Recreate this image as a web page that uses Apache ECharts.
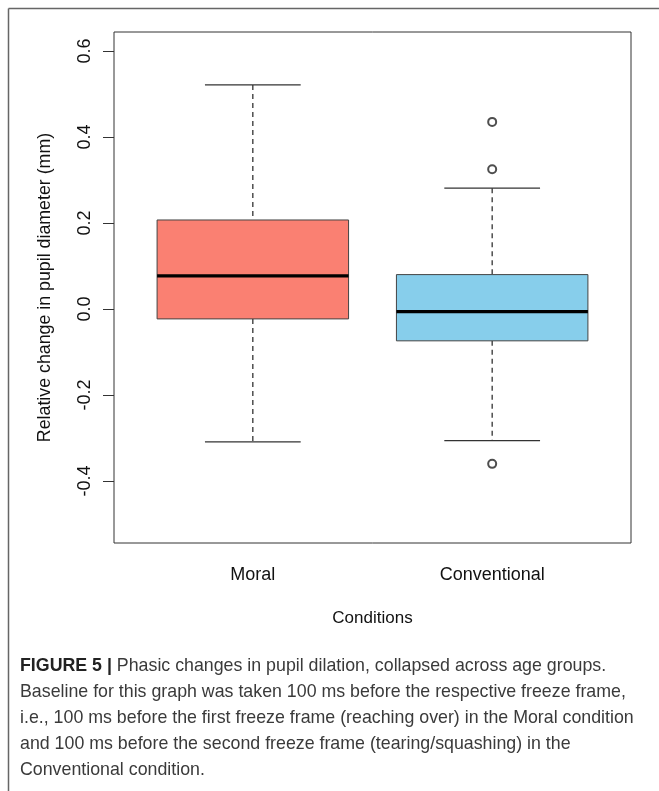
<!DOCTYPE html>
<html>
<head>
<meta charset="utf-8">
<script src="https://cdn.jsdelivr.net/npm/echarts@6/dist/echarts.min.js"></script>
<style>
  html, body { margin: 0; padding: 0; background: #fff; }
  #chart { width: 659px; height: 791px; }
</style>
</head>
<body>
<div id="chart"></div>
<script>
// ---- data ----
const categories = ['Moral', 'Conventional'];
const categoryPos = [1, 2];
const whiskerLow = [-0.309, -0.306];
const q1 = [-0.023, -0.074];
const median = [0.077, -0.006];
const q3 = [0.207, 0.080];
const whiskerHigh = [0.521, 0.281];
const outlierCategory = [2, 2, 2];
const outlierValue = [0.435, 0.325, -0.360];
const yTickValues = [-0.4, -0.2, 0.0, 0.2, 0.4, 0.6];
const yTickLabels = ['-0.4', '-0.2', '0.0', '0.2', '0.4', '0.6'];
const captionLines = [
  'Phasic changes in pupil dilation, collapsed across age groups.',
  'Baseline for this graph was taken 100 ms before the respective freeze frame,',
  'i.e., 100 ms before the first freeze frame (reaching over) in the Moral condition',
  'and 100 ms before the second freeze frame (tearing/squashing) in the',
  'Conventional condition.'
];

const boxData = categoryPos.map((x, i) => [x, whiskerLow[i], q1[i], median[i], q3[i], whiskerHigh[i]]);
const outlierData = outlierCategory.map((c, i) => [c, outlierValue[i]]);
const boxColors = ['#FA8072', '#87CEEB'];

const chart = echarts.init(document.getElementById('chart'), null, { renderer: 'canvas' });

const FONT = '"Liberation Sans", Arial, Helvetica, sans-serif';

function renderBox(params, api) {
  const x = api.value(0);
  const lo = api.value(1), a = api.value(2), m = api.value(3), b = api.value(4), hi = api.value(5);
  const hw = 0.4, cw = 0.2;
  const pTL = api.coord([x - hw, b]);
  const pBR = api.coord([x + hw, a]);
  const pMedL = api.coord([x - hw, m]);
  const pMedR = api.coord([x + hw, m]);
  const pHi = api.coord([x, hi]);
  const pB = api.coord([x, b]);
  const pA = api.coord([x, a]);
  const pLo = api.coord([x, lo]);
  const capHiL = api.coord([x - cw, hi]), capHiR = api.coord([x + cw, hi]);
  const capLoL = api.coord([x - cw, lo]), capLoR = api.coord([x + cw, lo]);
  const dashStyle = { stroke: '#333', lineWidth: 1.3, lineDash: [5, 4], fill: null };
  return {
    type: 'group',
    children: [
      { type: 'line', shape: { x1: pHi[0], y1: pHi[1], x2: pB[0], y2: pB[1] }, style: dashStyle },
      { type: 'line', shape: { x1: pA[0], y1: pA[1], x2: pLo[0], y2: pLo[1] }, style: dashStyle },
      { type: 'line', shape: { x1: capHiL[0], y1: capHiL[1], x2: capHiR[0], y2: capHiR[1] }, style: { stroke: '#333', lineWidth: 1.4 } },
      { type: 'line', shape: { x1: capLoL[0], y1: capLoL[1], x2: capLoR[0], y2: capLoR[1] }, style: { stroke: '#333', lineWidth: 1.4 } },
      { type: 'rect', shape: { x: pTL[0], y: pTL[1], width: pBR[0] - pTL[0], height: pBR[1] - pTL[1] },
        style: { fill: boxColors[params.dataIndex], stroke: '#444', lineWidth: 1 } },
      { type: 'line', shape: { x1: pMedL[0], y1: pMedL[1], x2: pMedR[0], y2: pMedR[1] }, style: { stroke: '#000', lineWidth: 3.2 } }
    ]
  };
}

const graphics = [
  { type: 'line', shape: { x1: 8.5, y1: 8.5, x2: 659, y2: 8.5 }, style: { stroke: '#666', lineWidth: 1.5 } },
  { type: 'line', shape: { x1: 8.5, y1: 8.5, x2: 8.5, y2: 791 }, style: { stroke: '#666', lineWidth: 1.5 } }
];
const capY = [666, 692, 718, 744, 770];
captionLines.forEach((t, i) => {
  graphics.push({
    type: 'text', x: 20, y: capY[i],
    style: {
      text: i === 0 ? '{b|FIGURE 5 |} ' + t : t,
      fill: '#3a3a3a', font: '17.8px ' + FONT,
      verticalAlign: 'middle', textVerticalAlign: 'middle',
      rich: { b: { fontWeight: 'bold', fill: '#222', fontSize: 17.8, fontFamily: 'Liberation Sans' } }
    }
  });
});

const option = {
  animation: false,
  backgroundColor: '#fff',
  textStyle: { fontFamily: FONT },
  grid: {
    left: 114, right: 28, top: 32, bottom: 248,
    show: true, borderColor: '#333', borderWidth: 1, backgroundColor: 'transparent',
    containLabel: false, outerBoundsMode: 'none'
  },
  xAxis: {
    type: 'value', min: 0.42, max: 2.58,
    splitLine: { show: false },
    axisLine: { show: false },
    axisTick: { show: true, customValues: categoryPos, length: 9, lineStyle: { color: '#333' } },
    axisLabel: {
      customValues: categoryPos, margin: 23,
      formatter: v => categories[categoryPos.indexOf(Math.round(v))] || '',
      color: '#111', fontSize: 18, fontFamily: FONT
    },
    name: 'Conditions', nameLocation: 'middle', nameGap: 67,
    nameTextStyle: { color: '#111', fontSize: 17, fontFamily: FONT }
  },
  yAxis: {
    type: 'value', min: -0.544, max: 0.644,
    splitLine: { show: false },
    axisLine: { show: false },
    axisTick: { show: true, customValues: yTickValues, length: 11, lineStyle: { color: '#333' } },
    axisLabel: {
      customValues: yTickValues, rotate: 90, margin: 20,
      formatter: v => yTickLabels[yTickValues.findIndex(t => Math.abs(t - v) < 1e-6)],
      color: '#111', fontSize: 18, fontFamily: FONT
    },
    name: 'Relative change in pupil diameter (mm)', nameLocation: 'middle', nameGap: 60, nameRotate: 90,
    nameTextStyle: { color: '#111', fontSize: 17.8, fontFamily: FONT }
  },
  series: [
    { type: 'custom', renderItem: renderBox, data: boxData, encode: { x: 0, y: [1, 2, 3, 4, 5] }, clip: false },
    { type: 'scatter', data: outlierData, symbol: 'emptyCircle', symbolSize: 8,
      itemStyle: { color: '#222', borderColor: '#222', borderWidth: 1 } }
  ],
  graphic: graphics
};
chart.setOption(option);
</script>
</body>
</html>
